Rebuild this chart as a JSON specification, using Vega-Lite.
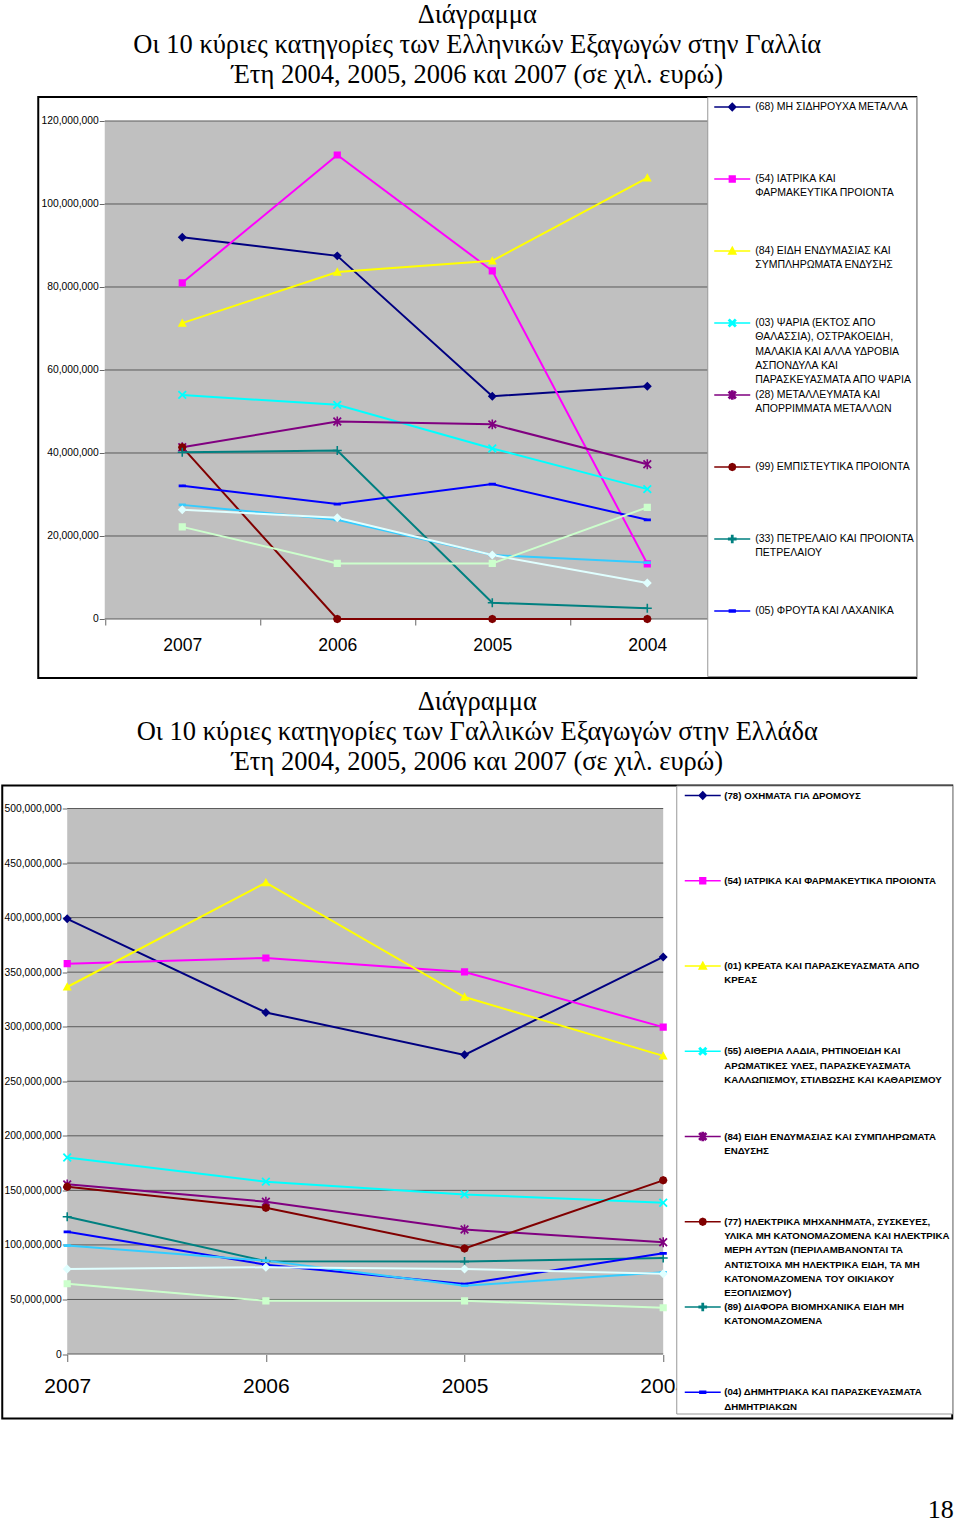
{
  "$schema": "https://vega.github.io/schema/vega-lite/v6.json",
  "padding": {"left": 1, "top": 1, "right": 0, "bottom": 0},
  "background": "white",
  "config": {
    "view": {"stroke": "black", "strokeWidth": 2},
    "style": {"guide-label": {"lineHeight": 14.25}},
    "axis": {"labelFont": "Liberation Sans", "labelColor": "black", "tickColor": "#666666", "domain": false, "grid": false, "labelFlush": false, "labelOverlap": false},
    "legend": {"title": null, "orient": "top-right", "offset": 0, "padding": 2, "fillColor": "white", "strokeColor": "#999999", "symbolStrokeWidth": 1.5, "symbolSize": 196, "labelFont": "Liberation Sans", "labelColor": "black", "labelLimit": 400}
  },
  "title": {"text": "18", "orient": "bottom", "anchor": "end", "font": "Liberation Serif", "fontSize": 26, "fontWeight": "normal", "color": "black", "offset": 77},
  "spacing": 8.5,
  "center": true,
  "resolve": {"scale": {"fill": "independent", "stroke": "independent", "shape": "independent"}},
  "datasets": {
    "c1": [
      {"series": "(68) ΜΗ ΣΙΔΗΡΟΥΧΑ ΜΕΤΑΛΛΑ", "year": 2007, "value": 92000000},
      {"series": "(68) ΜΗ ΣΙΔΗΡΟΥΧΑ ΜΕΤΑΛΛΑ", "year": 2006, "value": 87500000},
      {"series": "(68) ΜΗ ΣΙΔΗΡΟΥΧΑ ΜΕΤΑΛΛΑ", "year": 2005, "value": 53700000},
      {"series": "(68) ΜΗ ΣΙΔΗΡΟΥΧΑ ΜΕΤΑΛΛΑ", "year": 2004, "value": 56100000},
      {"series": "(54) ΙΑΤΡΙΚΑ ΚΑΙ\nΦΑΡΜΑΚΕΥΤΙΚΑ ΠΡΟΙΟΝΤΑ", "year": 2007, "value": 81000000},
      {"series": "(54) ΙΑΤΡΙΚΑ ΚΑΙ\nΦΑΡΜΑΚΕΥΤΙΚΑ ΠΡΟΙΟΝΤΑ", "year": 2006, "value": 111800000},
      {"series": "(54) ΙΑΤΡΙΚΑ ΚΑΙ\nΦΑΡΜΑΚΕΥΤΙΚΑ ΠΡΟΙΟΝΤΑ", "year": 2005, "value": 83900000},
      {"series": "(54) ΙΑΤΡΙΚΑ ΚΑΙ\nΦΑΡΜΑΚΕΥΤΙΚΑ ΠΡΟΙΟΝΤΑ", "year": 2004, "value": 13300000},
      {"series": "(84) ΕΙΔΗ ΕΝΔΥΜΑΣΙΑΣ ΚΑΙ\nΣΥΜΠΛΗΡΩΜΑΤΑ ΕΝΔΥΣΗΣ", "year": 2007, "value": 71300000},
      {"series": "(84) ΕΙΔΗ ΕΝΔΥΜΑΣΙΑΣ ΚΑΙ\nΣΥΜΠΛΗΡΩΜΑΤΑ ΕΝΔΥΣΗΣ", "year": 2006, "value": 83600000},
      {"series": "(84) ΕΙΔΗ ΕΝΔΥΜΑΣΙΑΣ ΚΑΙ\nΣΥΜΠΛΗΡΩΜΑΤΑ ΕΝΔΥΣΗΣ", "year": 2005, "value": 86300000},
      {"series": "(84) ΕΙΔΗ ΕΝΔΥΜΑΣΙΑΣ ΚΑΙ\nΣΥΜΠΛΗΡΩΜΑΤΑ ΕΝΔΥΣΗΣ", "year": 2004, "value": 106300000},
      {"series": "(03) ΨΑΡΙΑ (ΕΚΤΟΣ ΑΠΟ\nΘΑΛΑΣΣΙΑ), ΟΣΤΡΑΚΟΕΙΔΗ,\nΜΑΛΑΚΙΑ ΚΑΙ  ΑΛΛΑ ΥΔΡΟΒΙΑ\nΑΣΠΟΝΔΥΛΑ ΚΑΙ\nΠΑΡΑΣΚΕΥΑΣΜΑΤΑ ΑΠΟ ΨΑΡΙΑ", "year": 2007, "value": 54000000},
      {"series": "(03) ΨΑΡΙΑ (ΕΚΤΟΣ ΑΠΟ\nΘΑΛΑΣΣΙΑ), ΟΣΤΡΑΚΟΕΙΔΗ,\nΜΑΛΑΚΙΑ ΚΑΙ  ΑΛΛΑ ΥΔΡΟΒΙΑ\nΑΣΠΟΝΔΥΛΑ ΚΑΙ\nΠΑΡΑΣΚΕΥΑΣΜΑΤΑ ΑΠΟ ΨΑΡΙΑ", "year": 2006, "value": 51600000},
      {"series": "(03) ΨΑΡΙΑ (ΕΚΤΟΣ ΑΠΟ\nΘΑΛΑΣΣΙΑ), ΟΣΤΡΑΚΟΕΙΔΗ,\nΜΑΛΑΚΙΑ ΚΑΙ  ΑΛΛΑ ΥΔΡΟΒΙΑ\nΑΣΠΟΝΔΥΛΑ ΚΑΙ\nΠΑΡΑΣΚΕΥΑΣΜΑΤΑ ΑΠΟ ΨΑΡΙΑ", "year": 2005, "value": 41100000},
      {"series": "(03) ΨΑΡΙΑ (ΕΚΤΟΣ ΑΠΟ\nΘΑΛΑΣΣΙΑ), ΟΣΤΡΑΚΟΕΙΔΗ,\nΜΑΛΑΚΙΑ ΚΑΙ  ΑΛΛΑ ΥΔΡΟΒΙΑ\nΑΣΠΟΝΔΥΛΑ ΚΑΙ\nΠΑΡΑΣΚΕΥΑΣΜΑΤΑ ΑΠΟ ΨΑΡΙΑ", "year": 2004, "value": 31300000},
      {"series": "(28) ΜΕΤΑΛΛΕΥΜΑΤΑ ΚΑΙ\nΑΠΟΡΡΙΜΜΑΤΑ ΜΕΤΑΛΛΩΝ", "year": 2007, "value": 41400000},
      {"series": "(28) ΜΕΤΑΛΛΕΥΜΑΤΑ ΚΑΙ\nΑΠΟΡΡΙΜΜΑΤΑ ΜΕΤΑΛΛΩΝ", "year": 2006, "value": 47600000},
      {"series": "(28) ΜΕΤΑΛΛΕΥΜΑΤΑ ΚΑΙ\nΑΠΟΡΡΙΜΜΑΤΑ ΜΕΤΑΛΛΩΝ", "year": 2005, "value": 46900000},
      {"series": "(28) ΜΕΤΑΛΛΕΥΜΑΤΑ ΚΑΙ\nΑΠΟΡΡΙΜΜΑΤΑ ΜΕΤΑΛΛΩΝ", "year": 2004, "value": 37300000},
      {"series": "(99) ΕΜΠΙΣΤΕΥΤΙΚΑ ΠΡΟΙΟΝΤΑ", "year": 2007, "value": 41400000},
      {"series": "(99) ΕΜΠΙΣΤΕΥΤΙΚΑ ΠΡΟΙΟΝΤΑ", "year": 2006, "value": 0},
      {"series": "(99) ΕΜΠΙΣΤΕΥΤΙΚΑ ΠΡΟΙΟΝΤΑ", "year": 2005, "value": 0},
      {"series": "(99) ΕΜΠΙΣΤΕΥΤΙΚΑ ΠΡΟΙΟΝΤΑ", "year": 2004, "value": 0},
      {"series": "(33) ΠΕΤΡΕΛΑΙΟ ΚΑΙ ΠΡΟΙΟΝΤΑ\nΠΕΤΡΕΛΑΙΟΥ", "year": 2007, "value": 40200000},
      {"series": "(33) ΠΕΤΡΕΛΑΙΟ ΚΑΙ ΠΡΟΙΟΝΤΑ\nΠΕΤΡΕΛΑΙΟΥ", "year": 2006, "value": 40600000},
      {"series": "(33) ΠΕΤΡΕΛΑΙΟ ΚΑΙ ΠΡΟΙΟΝΤΑ\nΠΕΤΡΕΛΑΙΟΥ", "year": 2005, "value": 3900000},
      {"series": "(33) ΠΕΤΡΕΛΑΙΟ ΚΑΙ ΠΡΟΙΟΝΤΑ\nΠΕΤΡΕΛΑΙΟΥ", "year": 2004, "value": 2600000},
      {"series": "(05) ΦΡΟΥΤΑ ΚΑΙ ΛΑΧΑΝΙΚΑ", "year": 2007, "value": 32100000},
      {"series": "(05) ΦΡΟΥΤΑ ΚΑΙ ΛΑΧΑΝΙΚΑ", "year": 2006, "value": 27700000},
      {"series": "(05) ΦΡΟΥΤΑ ΚΑΙ ΛΑΧΑΝΙΚΑ", "year": 2005, "value": 32500000},
      {"series": "(05) ΦΡΟΥΤΑ ΚΑΙ ΛΑΧΑΝΙΚΑ", "year": 2004, "value": 23900000},
      {"series": "Σειρά 9", "year": 2007, "value": 27500000},
      {"series": "Σειρά 9", "year": 2006, "value": 23900000},
      {"series": "Σειρά 9", "year": 2005, "value": 15400000},
      {"series": "Σειρά 9", "year": 2004, "value": 13600000},
      {"series": "Σειρά 10", "year": 2007, "value": 26300000},
      {"series": "Σειρά 10", "year": 2006, "value": 24400000},
      {"series": "Σειρά 10", "year": 2005, "value": 15400000},
      {"series": "Σειρά 10", "year": 2004, "value": 8700000},
      {"series": "Σειρά 11", "year": 2007, "value": 22200000},
      {"series": "Σειρά 11", "year": 2006, "value": 13400000},
      {"series": "Σειρά 11", "year": 2005, "value": 13400000},
      {"series": "Σειρά 11", "year": 2004, "value": 26900000}
    ],
    "c2": [
      {"series": "(78) ΟΧΗΜΑΤΑ ΓΙΑ ΔΡΟΜΟΥΣ", "year": 2007, "value": 398900000},
      {"series": "(78) ΟΧΗΜΑΤΑ ΓΙΑ ΔΡΟΜΟΥΣ", "year": 2006, "value": 313100000},
      {"series": "(78) ΟΧΗΜΑΤΑ ΓΙΑ ΔΡΟΜΟΥΣ", "year": 2005, "value": 274200000},
      {"series": "(78) ΟΧΗΜΑΤΑ ΓΙΑ ΔΡΟΜΟΥΣ", "year": 2004, "value": 364000000},
      {"series": "(54) ΙΑΤΡΙΚΑ ΚΑΙ ΦΑΡΜΑΚΕΥΤΙΚΑ ΠΡΟΙΟΝΤΑ", "year": 2007, "value": 357800000},
      {"series": "(54) ΙΑΤΡΙΚΑ ΚΑΙ ΦΑΡΜΑΚΕΥΤΙΚΑ ΠΡΟΙΟΝΤΑ", "year": 2006, "value": 363000000},
      {"series": "(54) ΙΑΤΡΙΚΑ ΚΑΙ ΦΑΡΜΑΚΕΥΤΙΚΑ ΠΡΟΙΟΝΤΑ", "year": 2005, "value": 350200000},
      {"series": "(54) ΙΑΤΡΙΚΑ ΚΑΙ ΦΑΡΜΑΚΕΥΤΙΚΑ ΠΡΟΙΟΝΤΑ", "year": 2004, "value": 299600000},
      {"series": "(01) ΚΡΕΑΤΑ ΚΑΙ ΠΑΡΑΣΚΕΥΑΣΜΑΤΑ ΑΠΟ\nΚΡΕΑΣ", "year": 2007, "value": 336400000},
      {"series": "(01) ΚΡΕΑΤΑ ΚΑΙ ΠΑΡΑΣΚΕΥΑΣΜΑΤΑ ΑΠΟ\nΚΡΕΑΣ", "year": 2006, "value": 432000000},
      {"series": "(01) ΚΡΕΑΤΑ ΚΑΙ ΠΑΡΑΣΚΕΥΑΣΜΑΤΑ ΑΠΟ\nΚΡΕΑΣ", "year": 2005, "value": 327200000},
      {"series": "(01) ΚΡΕΑΤΑ ΚΑΙ ΠΑΡΑΣΚΕΥΑΣΜΑΤΑ ΑΠΟ\nΚΡΕΑΣ", "year": 2004, "value": 273300000},
      {"series": "(55) ΑΙΘΕΡΙΑ  ΛΑΔΙΑ, ΡΗΤΙΝΟΕΙΔΗ  ΚΑΙ\nΑΡΩΜΑΤΙΚΕΣ  ΥΛΕΣ, ΠΑΡΑΣΚΕΥΑΣΜΑΤΑ\nΚΑΛΛΩΠΙΣΜΟΥ, ΣΤΙΛΒΩΣΗΣ ΚΑΙ ΚΑΘΑΡΙΣΜΟΥ", "year": 2007, "value": 180100000},
      {"series": "(55) ΑΙΘΕΡΙΑ  ΛΑΔΙΑ, ΡΗΤΙΝΟΕΙΔΗ  ΚΑΙ\nΑΡΩΜΑΤΙΚΕΣ  ΥΛΕΣ, ΠΑΡΑΣΚΕΥΑΣΜΑΤΑ\nΚΑΛΛΩΠΙΣΜΟΥ, ΣΤΙΛΒΩΣΗΣ ΚΑΙ ΚΑΘΑΡΙΣΜΟΥ", "year": 2006, "value": 158000000},
      {"series": "(55) ΑΙΘΕΡΙΑ  ΛΑΔΙΑ, ΡΗΤΙΝΟΕΙΔΗ  ΚΑΙ\nΑΡΩΜΑΤΙΚΕΣ  ΥΛΕΣ, ΠΑΡΑΣΚΕΥΑΣΜΑΤΑ\nΚΑΛΛΩΠΙΣΜΟΥ, ΣΤΙΛΒΩΣΗΣ ΚΑΙ ΚΑΘΑΡΙΣΜΟΥ", "year": 2005, "value": 146300000},
      {"series": "(55) ΑΙΘΕΡΙΑ  ΛΑΔΙΑ, ΡΗΤΙΝΟΕΙΔΗ  ΚΑΙ\nΑΡΩΜΑΤΙΚΕΣ  ΥΛΕΣ, ΠΑΡΑΣΚΕΥΑΣΜΑΤΑ\nΚΑΛΛΩΠΙΣΜΟΥ, ΣΤΙΛΒΩΣΗΣ ΚΑΙ ΚΑΘΑΡΙΣΜΟΥ", "year": 2004, "value": 138700000},
      {"series": "(84) ΕΙΔΗ ΕΝΔΥΜΑΣΙΑΣ ΚΑΙ ΣΥΜΠΛΗΡΩΜΑΤΑ\nΕΝΔΥΣΗΣ", "year": 2007, "value": 155500000},
      {"series": "(84) ΕΙΔΗ ΕΝΔΥΜΑΣΙΑΣ ΚΑΙ ΣΥΜΠΛΗΡΩΜΑΤΑ\nΕΝΔΥΣΗΣ", "year": 2006, "value": 139600000},
      {"series": "(84) ΕΙΔΗ ΕΝΔΥΜΑΣΙΑΣ ΚΑΙ ΣΥΜΠΛΗΡΩΜΑΤΑ\nΕΝΔΥΣΗΣ", "year": 2005, "value": 114100000},
      {"series": "(84) ΕΙΔΗ ΕΝΔΥΜΑΣΙΑΣ ΚΑΙ ΣΥΜΠΛΗΡΩΜΑΤΑ\nΕΝΔΥΣΗΣ", "year": 2004, "value": 102500000},
      {"series": "(77) ΗΛΕΚΤΡΙΚΑ ΜΗΧΑΝΗΜΑΤΑ, ΣΥΣΚΕΥΕΣ,\nΥΛΙΚΑ ΜΗ ΚΑΤΟΝΟΜΑΖΟΜΕΝΑ ΚΑΙ ΗΛΕΚΤΡΙΚΑ\nΜΕΡΗ  ΑΥΤΩΝ  (ΠΕΡΙΛΑΜΒΑΝΟΝΤΑΙ ΤΑ\nΑΝΤΙΣΤΟΙΧΑ  ΜΗ  ΗΛΕΚΤΡΙΚΑ ΕΙΔΗ, ΤΑ ΜΗ\nΚΑΤΟΝΟΜΑΖΟΜΕΝΑ ΤΟΥ ΟΙΚΙΑΚΟΥ\nΕΞΟΠΛΙΣΜΟΥ)", "year": 2007, "value": 153400000},
      {"series": "(77) ΗΛΕΚΤΡΙΚΑ ΜΗΧΑΝΗΜΑΤΑ, ΣΥΣΚΕΥΕΣ,\nΥΛΙΚΑ ΜΗ ΚΑΤΟΝΟΜΑΖΟΜΕΝΑ ΚΑΙ ΗΛΕΚΤΡΙΚΑ\nΜΕΡΗ  ΑΥΤΩΝ  (ΠΕΡΙΛΑΜΒΑΝΟΝΤΑΙ ΤΑ\nΑΝΤΙΣΤΟΙΧΑ  ΜΗ  ΗΛΕΚΤΡΙΚΑ ΕΙΔΗ, ΤΑ ΜΗ\nΚΑΤΟΝΟΜΑΖΟΜΕΝΑ ΤΟΥ ΟΙΚΙΑΚΟΥ\nΕΞΟΠΛΙΣΜΟΥ)", "year": 2006, "value": 134100000},
      {"series": "(77) ΗΛΕΚΤΡΙΚΑ ΜΗΧΑΝΗΜΑΤΑ, ΣΥΣΚΕΥΕΣ,\nΥΛΙΚΑ ΜΗ ΚΑΤΟΝΟΜΑΖΟΜΕΝΑ ΚΑΙ ΗΛΕΚΤΡΙΚΑ\nΜΕΡΗ  ΑΥΤΩΝ  (ΠΕΡΙΛΑΜΒΑΝΟΝΤΑΙ ΤΑ\nΑΝΤΙΣΤΟΙΧΑ  ΜΗ  ΗΛΕΚΤΡΙΚΑ ΕΙΔΗ, ΤΑ ΜΗ\nΚΑΤΟΝΟΜΑΖΟΜΕΝΑ ΤΟΥ ΟΙΚΙΑΚΟΥ\nΕΞΟΠΛΙΣΜΟΥ)", "year": 2005, "value": 96700000},
      {"series": "(77) ΗΛΕΚΤΡΙΚΑ ΜΗΧΑΝΗΜΑΤΑ, ΣΥΣΚΕΥΕΣ,\nΥΛΙΚΑ ΜΗ ΚΑΤΟΝΟΜΑΖΟΜΕΝΑ ΚΑΙ ΗΛΕΚΤΡΙΚΑ\nΜΕΡΗ  ΑΥΤΩΝ  (ΠΕΡΙΛΑΜΒΑΝΟΝΤΑΙ ΤΑ\nΑΝΤΙΣΤΟΙΧΑ  ΜΗ  ΗΛΕΚΤΡΙΚΑ ΕΙΔΗ, ΤΑ ΜΗ\nΚΑΤΟΝΟΜΑΖΟΜΕΝΑ ΤΟΥ ΟΙΚΙΑΚΟΥ\nΕΞΟΠΛΙΣΜΟΥ)", "year": 2004, "value": 159200000},
      {"series": "(89) ΔΙΑΦΟΡΑ ΒΙΟΜΗΧΑΝΙΚΑ ΕΙΔΗ ΜΗ\nΚΑΤΟΝΟΜΑΖΟΜΕΝΑ", "year": 2007, "value": 125800000},
      {"series": "(89) ΔΙΑΦΟΡΑ ΒΙΟΜΗΧΑΝΙΚΑ ΕΙΔΗ ΜΗ\nΚΑΤΟΝΟΜΑΖΟΜΕΝΑ", "year": 2006, "value": 85000000},
      {"series": "(89) ΔΙΑΦΟΡΑ ΒΙΟΜΗΧΑΝΙΚΑ ΕΙΔΗ ΜΗ\nΚΑΤΟΝΟΜΑΖΟΜΕΝΑ", "year": 2005, "value": 84700000},
      {"series": "(89) ΔΙΑΦΟΡΑ ΒΙΟΜΗΧΑΝΙΚΑ ΕΙΔΗ ΜΗ\nΚΑΤΟΝΟΜΑΖΟΜΕΝΑ", "year": 2004, "value": 88000000},
      {"series": "(04) ΔΗΜΗΤΡΙΑΚΑ ΚΑΙ ΠΑΡΑΣΚΕΥΑΣΜΑΤΑ\nΔΗΜΗΤΡΙΑΚΩΝ", "year": 2007, "value": 112000000},
      {"series": "(04) ΔΗΜΗΤΡΙΑΚΑ ΚΑΙ ΠΑΡΑΣΚΕΥΑΣΜΑΤΑ\nΔΗΜΗΤΡΙΑΚΩΝ", "year": 2006, "value": 81900000},
      {"series": "(04) ΔΗΜΗΤΡΙΑΚΑ ΚΑΙ ΠΑΡΑΣΚΕΥΑΣΜΑΤΑ\nΔΗΜΗΤΡΙΑΚΩΝ", "year": 2005, "value": 64100000},
      {"series": "(04) ΔΗΜΗΤΡΙΑΚΑ ΚΑΙ ΠΑΡΑΣΚΕΥΑΣΜΑΤΑ\nΔΗΜΗΤΡΙΑΚΩΝ", "year": 2004, "value": 92300000},
      {"series": "Σειρά 9", "year": 2007, "value": 99400000},
      {"series": "Σειρά 9", "year": 2006, "value": 85600000},
      {"series": "Σειρά 9", "year": 2005, "value": 62600000},
      {"series": "Σειρά 9", "year": 2004, "value": 74900000},
      {"series": "Σειρά 10", "year": 2007, "value": 77900000},
      {"series": "Σειρά 10", "year": 2006, "value": 79500000},
      {"series": "Σειρά 10", "year": 2005, "value": 77900000},
      {"series": "Σειρά 10", "year": 2004, "value": 73600000},
      {"series": "Σειρά 11", "year": 2007, "value": 64400000},
      {"series": "Σειρά 11", "year": 2006, "value": 48800000},
      {"series": "Σειρά 11", "year": 2005, "value": 48800000},
      {"series": "Σειρά 11", "year": 2004, "value": 42400000}
    ],
    "g1": [{"v": 0}, {"v": 20000000}, {"v": 40000000}, {"v": 60000000}, {"v": 80000000}, {"v": 100000000}, {"v": 120000000}],
    "g2": [{"v": 0}, {"v": 50000000}, {"v": 100000000}, {"v": 150000000}, {"v": 200000000}, {"v": 250000000}, {"v": 300000000}, {"v": 350000000}, {"v": 400000000}, {"v": 450000000}, {"v": 500000000}]
  },
  "vconcat": [
    {
      "title": {"text": ["Διάγραμμα", "Οι 10 κύριες κατηγορίες των Ελληνικών Εξαγωγών στην Γαλλία", "Έτη 2004, 2005, 2006 και 2007 (σε χιλ. ευρώ)"], "font": "Liberation Serif", "fontSize": 26.5, "fontWeight": "normal", "lineHeight": 30, "offset": 8, "color": "black", "anchor": "middle"},
      "width": 878,
      "height": 581,
      "data": {"name": "c1"},
      "layer": [
        {
          "data": {"values": [{}]},
          "mark": {"type": "rect", "color": "#C0C0C0"},
          "encoding": {
            "x": {"datum": 2007.5, "type": "quantitative", "scale": {"domain": [2007.929, 2002.265], "nice": false, "zero": false}},
            "x2": {"datum": 2003.4},
            "y": {"datum": 0, "type": "quantitative", "scale": {"domain": [-14217000, 125783000], "nice": false, "zero": false}},
            "y2": {"datum": 120000000}
          }
        },
        {
          "data": {"name": "g1"},
          "mark": {"type": "rule", "color": "#5a5a5a", "strokeWidth": 1},
          "encoding": {
            "y": {"field": "v", "type": "quantitative", "scale": {"domain": [-14217000, 125783000], "nice": false, "zero": false}},
            "x": {"datum": 2007.5, "type": "quantitative", "scale": {"domain": [2007.929, 2002.265], "nice": false, "zero": false}},
            "x2": {"datum": 2003.4}
          }
        },
        {
          "mark": {"type": "line", "strokeWidth": 2},
          "encoding": {
            "x": {"field": "year", "type": "quantitative", "scale": {"domain": [2007.929, 2002.265], "nice": false, "zero": false},
              "axis": {"title": null, "offset": -59, "values": [2007.5, 2007, 2006.5, 2006, 2005.5, 2005, 2004.5, 2004], "labelExpr": "datum.value % 1 == 0 ? format(datum.value, 'd') : ''", "tickOpacity": {"condition": {"test": "datum.value % 1 == 0", "value": 0}, "value": 1}, "tickSize": 6, "labelPadding": 11.5, "labelFontSize": 17.5}},
            "y": {"field": "value", "type": "quantitative", "scale": {"domain": [-14217000, 125783000], "nice": false, "zero": false},
              "axis": {"title": null, "offset": -66, "values": [0, 20000000, 40000000, 60000000, 80000000, 100000000, 120000000], "format": ",d", "tickSize": 5, "labelPadding": 1, "labelFontSize": 10.3}},
            "stroke": {"field": "series", "type": "nominal",
              "scale": {"domain": ["(68) ΜΗ ΣΙΔΗΡΟΥΧΑ ΜΕΤΑΛΛΑ", "(54) ΙΑΤΡΙΚΑ ΚΑΙ\nΦΑΡΜΑΚΕΥΤΙΚΑ ΠΡΟΙΟΝΤΑ", "(84) ΕΙΔΗ ΕΝΔΥΜΑΣΙΑΣ ΚΑΙ\nΣΥΜΠΛΗΡΩΜΑΤΑ ΕΝΔΥΣΗΣ", "(03) ΨΑΡΙΑ (ΕΚΤΟΣ ΑΠΟ\nΘΑΛΑΣΣΙΑ), ΟΣΤΡΑΚΟΕΙΔΗ,\nΜΑΛΑΚΙΑ ΚΑΙ  ΑΛΛΑ ΥΔΡΟΒΙΑ\nΑΣΠΟΝΔΥΛΑ ΚΑΙ\nΠΑΡΑΣΚΕΥΑΣΜΑΤΑ ΑΠΟ ΨΑΡΙΑ", "(28) ΜΕΤΑΛΛΕΥΜΑΤΑ ΚΑΙ\nΑΠΟΡΡΙΜΜΑΤΑ ΜΕΤΑΛΛΩΝ", "(99) ΕΜΠΙΣΤΕΥΤΙΚΑ ΠΡΟΙΟΝΤΑ", "(33) ΠΕΤΡΕΛΑΙΟ ΚΑΙ ΠΡΟΙΟΝΤΑ\nΠΕΤΡΕΛΑΙΟΥ", "(05) ΦΡΟΥΤΑ ΚΑΙ ΛΑΧΑΝΙΚΑ", "Σειρά 9", "Σειρά 10", "Σειρά 11"],
                "range": ["#000080", "#FF00FF", "#FFFF00", "#00FFFF", "#800080", "#800000", "#008080", "#0000FF", "#33CCFF", "#E0FFFF", "#CCFFCC"]},
              "legend": {"values": ["(68) ΜΗ ΣΙΔΗΡΟΥΧΑ ΜΕΤΑΛΛΑ", "(54) ΙΑΤΡΙΚΑ ΚΑΙ\nΦΑΡΜΑΚΕΥΤΙΚΑ ΠΡΟΙΟΝΤΑ", "(84) ΕΙΔΗ ΕΝΔΥΜΑΣΙΑΣ ΚΑΙ\nΣΥΜΠΛΗΡΩΜΑΤΑ ΕΝΔΥΣΗΣ", "(03) ΨΑΡΙΑ (ΕΚΤΟΣ ΑΠΟ\nΘΑΛΑΣΣΙΑ), ΟΣΤΡΑΚΟΕΙΔΗ,\nΜΑΛΑΚΙΑ ΚΑΙ  ΑΛΛΑ ΥΔΡΟΒΙΑ\nΑΣΠΟΝΔΥΛΑ ΚΑΙ\nΠΑΡΑΣΚΕΥΑΣΜΑΤΑ ΑΠΟ ΨΑΡΙΑ", "(28) ΜΕΤΑΛΛΕΥΜΑΤΑ ΚΑΙ\nΑΠΟΡΡΙΜΜΑΤΑ ΜΕΤΑΛΛΩΝ", "(99) ΕΜΠΙΣΤΕΥΤΙΚΑ ΠΡΟΙΟΝΤΑ", "(33) ΠΕΤΡΕΛΑΙΟ ΚΑΙ ΠΡΟΙΟΝΤΑ\nΠΕΤΡΕΛΑΙΟΥ", "(05) ΦΡΟΥΤΑ ΚΑΙ ΛΑΧΑΝΙΚΑ"], "symbolOffset": 15, "labelOffset": 15, "labelFontSize": 10.5, "rowPadding": 1, "labelExpr": "slice(split(datum.label + '\\n \\n \\n \\n ', '\\n'), 0, 5)"}
            }
          }
        },
        {
          "mark": {"type": "point", "filled": true, "size": 306, "strokeWidth": 0, "opacity": 1},
          "encoding": {
            "x": {"field": "year", "type": "quantitative", "scale": {"domain": [2007.929, 2002.265], "nice": false, "zero": false}},
            "y": {"field": "value", "type": "quantitative", "scale": {"domain": [-14217000, 125783000], "nice": false, "zero": false}},
            "fill": {"field": "series", "type": "nominal",
              "scale": {"domain": ["(68) ΜΗ ΣΙΔΗΡΟΥΧΑ ΜΕΤΑΛΛΑ", "(54) ΙΑΤΡΙΚΑ ΚΑΙ\nΦΑΡΜΑΚΕΥΤΙΚΑ ΠΡΟΙΟΝΤΑ", "(84) ΕΙΔΗ ΕΝΔΥΜΑΣΙΑΣ ΚΑΙ\nΣΥΜΠΛΗΡΩΜΑΤΑ ΕΝΔΥΣΗΣ", "(03) ΨΑΡΙΑ (ΕΚΤΟΣ ΑΠΟ\nΘΑΛΑΣΣΙΑ), ΟΣΤΡΑΚΟΕΙΔΗ,\nΜΑΛΑΚΙΑ ΚΑΙ  ΑΛΛΑ ΥΔΡΟΒΙΑ\nΑΣΠΟΝΔΥΛΑ ΚΑΙ\nΠΑΡΑΣΚΕΥΑΣΜΑΤΑ ΑΠΟ ΨΑΡΙΑ", "(28) ΜΕΤΑΛΛΕΥΜΑΤΑ ΚΑΙ\nΑΠΟΡΡΙΜΜΑΤΑ ΜΕΤΑΛΛΩΝ", "(99) ΕΜΠΙΣΤΕΥΤΙΚΑ ΠΡΟΙΟΝΤΑ", "(33) ΠΕΤΡΕΛΑΙΟ ΚΑΙ ΠΡΟΙΟΝΤΑ\nΠΕΤΡΕΛΑΙΟΥ", "(05) ΦΡΟΥΤΑ ΚΑΙ ΛΑΧΑΝΙΚΑ", "Σειρά 9", "Σειρά 10", "Σειρά 11"],
                "range": ["#000080", "#FF00FF", "#FFFF00", "#00FFFF", "#800080", "#800000", "#008080", "#0000FF", "#33CCFF", "#E0FFFF", "#CCFFCC"]},
              "legend": {"values": ["(68) ΜΗ ΣΙΔΗΡΟΥΧΑ ΜΕΤΑΛΛΑ", "(54) ΙΑΤΡΙΚΑ ΚΑΙ\nΦΑΡΜΑΚΕΥΤΙΚΑ ΠΡΟΙΟΝΤΑ", "(84) ΕΙΔΗ ΕΝΔΥΜΑΣΙΑΣ ΚΑΙ\nΣΥΜΠΛΗΡΩΜΑΤΑ ΕΝΔΥΣΗΣ", "(03) ΨΑΡΙΑ (ΕΚΤΟΣ ΑΠΟ\nΘΑΛΑΣΣΙΑ), ΟΣΤΡΑΚΟΕΙΔΗ,\nΜΑΛΑΚΙΑ ΚΑΙ  ΑΛΛΑ ΥΔΡΟΒΙΑ\nΑΣΠΟΝΔΥΛΑ ΚΑΙ\nΠΑΡΑΣΚΕΥΑΣΜΑΤΑ ΑΠΟ ΨΑΡΙΑ", "(28) ΜΕΤΑΛΛΕΥΜΑΤΑ ΚΑΙ\nΑΠΟΡΡΙΜΜΑΤΑ ΜΕΤΑΛΛΩΝ", "(99) ΕΜΠΙΣΤΕΥΤΙΚΑ ΠΡΟΙΟΝΤΑ", "(33) ΠΕΤΡΕΛΑΙΟ ΚΑΙ ΠΡΟΙΟΝΤΑ\nΠΕΤΡΕΛΑΙΟΥ", "(05) ΦΡΟΥΤΑ ΚΑΙ ΛΑΧΑΝΙΚΑ"], "symbolOffset": 15, "labelOffset": 15, "labelFontSize": 10.5, "rowPadding": 1, "labelExpr": "slice(split(datum.label + '\\n \\n \\n \\n ', '\\n'), 0, 5)"}},
            "stroke": {"field": "series", "type": "nominal",
              "scale": {"domain": ["(68) ΜΗ ΣΙΔΗΡΟΥΧΑ ΜΕΤΑΛΛΑ", "(54) ΙΑΤΡΙΚΑ ΚΑΙ\nΦΑΡΜΑΚΕΥΤΙΚΑ ΠΡΟΙΟΝΤΑ", "(84) ΕΙΔΗ ΕΝΔΥΜΑΣΙΑΣ ΚΑΙ\nΣΥΜΠΛΗΡΩΜΑΤΑ ΕΝΔΥΣΗΣ", "(03) ΨΑΡΙΑ (ΕΚΤΟΣ ΑΠΟ\nΘΑΛΑΣΣΙΑ), ΟΣΤΡΑΚΟΕΙΔΗ,\nΜΑΛΑΚΙΑ ΚΑΙ  ΑΛΛΑ ΥΔΡΟΒΙΑ\nΑΣΠΟΝΔΥΛΑ ΚΑΙ\nΠΑΡΑΣΚΕΥΑΣΜΑΤΑ ΑΠΟ ΨΑΡΙΑ", "(28) ΜΕΤΑΛΛΕΥΜΑΤΑ ΚΑΙ\nΑΠΟΡΡΙΜΜΑΤΑ ΜΕΤΑΛΛΩΝ", "(99) ΕΜΠΙΣΤΕΥΤΙΚΑ ΠΡΟΙΟΝΤΑ", "(33) ΠΕΤΡΕΛΑΙΟ ΚΑΙ ΠΡΟΙΟΝΤΑ\nΠΕΤΡΕΛΑΙΟΥ", "(05) ΦΡΟΥΤΑ ΚΑΙ ΛΑΧΑΝΙΚΑ", "Σειρά 9", "Σειρά 10", "Σειρά 11"],
                "range": ["#000080", "#FF00FF", "#FFFF00", "#00FFFF", "#800080", "#800000", "#008080", "#0000FF", "#33CCFF", "#E0FFFF", "#CCFFCC"]},
              "legend": {"values": ["(68) ΜΗ ΣΙΔΗΡΟΥΧΑ ΜΕΤΑΛΛΑ", "(54) ΙΑΤΡΙΚΑ ΚΑΙ\nΦΑΡΜΑΚΕΥΤΙΚΑ ΠΡΟΙΟΝΤΑ", "(84) ΕΙΔΗ ΕΝΔΥΜΑΣΙΑΣ ΚΑΙ\nΣΥΜΠΛΗΡΩΜΑΤΑ ΕΝΔΥΣΗΣ", "(03) ΨΑΡΙΑ (ΕΚΤΟΣ ΑΠΟ\nΘΑΛΑΣΣΙΑ), ΟΣΤΡΑΚΟΕΙΔΗ,\nΜΑΛΑΚΙΑ ΚΑΙ  ΑΛΛΑ ΥΔΡΟΒΙΑ\nΑΣΠΟΝΔΥΛΑ ΚΑΙ\nΠΑΡΑΣΚΕΥΑΣΜΑΤΑ ΑΠΟ ΨΑΡΙΑ", "(28) ΜΕΤΑΛΛΕΥΜΑΤΑ ΚΑΙ\nΑΠΟΡΡΙΜΜΑΤΑ ΜΕΤΑΛΛΩΝ", "(99) ΕΜΠΙΣΤΕΥΤΙΚΑ ΠΡΟΙΟΝΤΑ", "(33) ΠΕΤΡΕΛΑΙΟ ΚΑΙ ΠΡΟΙΟΝΤΑ\nΠΕΤΡΕΛΑΙΟΥ", "(05) ΦΡΟΥΤΑ ΚΑΙ ΛΑΧΑΝΙΚΑ"], "symbolOffset": 15, "labelOffset": 15, "labelFontSize": 10.5, "rowPadding": 1, "labelExpr": "slice(split(datum.label + '\\n \\n \\n \\n ', '\\n'), 0, 5)"}},
            "shape": {"field": "series", "type": "nominal",
              "scale": {"domain": ["(68) ΜΗ ΣΙΔΗΡΟΥΧΑ ΜΕΤΑΛΛΑ", "(54) ΙΑΤΡΙΚΑ ΚΑΙ\nΦΑΡΜΑΚΕΥΤΙΚΑ ΠΡΟΙΟΝΤΑ", "(84) ΕΙΔΗ ΕΝΔΥΜΑΣΙΑΣ ΚΑΙ\nΣΥΜΠΛΗΡΩΜΑΤΑ ΕΝΔΥΣΗΣ", "(03) ΨΑΡΙΑ (ΕΚΤΟΣ ΑΠΟ\nΘΑΛΑΣΣΙΑ), ΟΣΤΡΑΚΟΕΙΔΗ,\nΜΑΛΑΚΙΑ ΚΑΙ  ΑΛΛΑ ΥΔΡΟΒΙΑ\nΑΣΠΟΝΔΥΛΑ ΚΑΙ\nΠΑΡΑΣΚΕΥΑΣΜΑΤΑ ΑΠΟ ΨΑΡΙΑ", "(28) ΜΕΤΑΛΛΕΥΜΑΤΑ ΚΑΙ\nΑΠΟΡΡΙΜΜΑΤΑ ΜΕΤΑΛΛΩΝ", "(99) ΕΜΠΙΣΤΕΥΤΙΚΑ ΠΡΟΙΟΝΤΑ", "(33) ΠΕΤΡΕΛΑΙΟ ΚΑΙ ΠΡΟΙΟΝΤΑ\nΠΕΤΡΕΛΑΙΟΥ", "(05) ΦΡΟΥΤΑ ΚΑΙ ΛΑΧΑΝΙΚΑ", "Σειρά 9", "Σειρά 10", "Σειρά 11"],
                "range": ["M-2.571,0H2.571M0,-0.514L0.514,0L0,0.514L-0.514,0Z", "M-2.571,0H2.571M-0.411,-0.411H0.411V0.411H-0.411Z", "M-2.571,0H2.571M0,-0.54L0.514,0.411H-0.514Z", "M-2.571,0H2.571M-0.509,-0.365L0.365,0.509L0.509,0.365L-0.365,-0.509ZM-0.365,0.509L0.509,-0.365L0.365,-0.509L-0.509,0.365Z", "M-2.571,0H2.571M-0.509,-0.365L0.365,0.509L0.509,0.365L-0.365,-0.509ZM-0.365,0.509L0.509,-0.365L0.365,-0.509L-0.509,0.365ZM-0.09,-0.566V0.566H0.09V-0.566Z", "M-2.571,0H2.571M0.489,0L0.345,0.345L0,0.489L-0.345,0.345L-0.489,0L-0.345,-0.345L0,-0.489L0.345,-0.345Z", "M-2.571,0H2.571M-0.09,-0.514H0.09V0.514H-0.09ZM-0.514,-0.09H0.514V0.09H-0.514Z", "M-2.571,0H2.571M-0.411,-0.154H0.411V0.154H-0.411Z", "M-2.571,0H2.571M-0.411,-0.154H0.411V0.154H-0.411Z", "M-2.571,0H2.571M0,-0.514L0.514,0L0,0.514L-0.514,0Z", "M-2.571,0H2.571M-0.411,-0.411H0.411V0.411H-0.411Z"]},
              "legend": {"values": ["(68) ΜΗ ΣΙΔΗΡΟΥΧΑ ΜΕΤΑΛΛΑ", "(54) ΙΑΤΡΙΚΑ ΚΑΙ\nΦΑΡΜΑΚΕΥΤΙΚΑ ΠΡΟΙΟΝΤΑ", "(84) ΕΙΔΗ ΕΝΔΥΜΑΣΙΑΣ ΚΑΙ\nΣΥΜΠΛΗΡΩΜΑΤΑ ΕΝΔΥΣΗΣ", "(03) ΨΑΡΙΑ (ΕΚΤΟΣ ΑΠΟ\nΘΑΛΑΣΣΙΑ), ΟΣΤΡΑΚΟΕΙΔΗ,\nΜΑΛΑΚΙΑ ΚΑΙ  ΑΛΛΑ ΥΔΡΟΒΙΑ\nΑΣΠΟΝΔΥΛΑ ΚΑΙ\nΠΑΡΑΣΚΕΥΑΣΜΑΤΑ ΑΠΟ ΨΑΡΙΑ", "(28) ΜΕΤΑΛΛΕΥΜΑΤΑ ΚΑΙ\nΑΠΟΡΡΙΜΜΑΤΑ ΜΕΤΑΛΛΩΝ", "(99) ΕΜΠΙΣΤΕΥΤΙΚΑ ΠΡΟΙΟΝΤΑ", "(33) ΠΕΤΡΕΛΑΙΟ ΚΑΙ ΠΡΟΙΟΝΤΑ\nΠΕΤΡΕΛΑΙΟΥ", "(05) ΦΡΟΥΤΑ ΚΑΙ ΛΑΧΑΝΙΚΑ"], "symbolOffset": 15, "labelOffset": 15, "labelFontSize": 10.5, "rowPadding": 1, "labelExpr": "slice(split(datum.label + '\\n \\n \\n \\n ', '\\n'), 0, 5)"}}
          }
        }
      ]
    },
    {
      "title": {"text": ["Διάγραμμα", "Οι 10 κύριες κατηγορίες των Γαλλικών Εξαγωγών στην Ελλάδα", "Έτη 2004, 2005, 2006 και 2007 (σε χιλ. ευρώ)"], "font": "Liberation Serif", "fontSize": 26.5, "fontWeight": "normal", "lineHeight": 30, "offset": 10, "color": "black", "anchor": "middle"},
      "width": 950,
      "height": 633,
      "data": {"name": "c2"},
      "layer": [
        {
          "data": {"values": [{}]},
          "mark": {"type": "rect", "color": "#C0C0C0"},
          "encoding": {
            "x": {"datum": 2007, "type": "quantitative", "scale": {"domain": [2007.327, 2002.545], "nice": false, "zero": false}},
            "x2": {"datum": 2004},
            "y": {"datum": 0, "type": "quantitative", "scale": {"domain": [-59100000, 521100000], "nice": false, "zero": false}},
            "y2": {"datum": 500000000}
          }
        },
        {
          "data": {"name": "g2"},
          "mark": {"type": "rule", "color": "#5a5a5a", "strokeWidth": 1},
          "encoding": {
            "y": {"field": "v", "type": "quantitative", "scale": {"domain": [-59100000, 521100000], "nice": false, "zero": false}},
            "x": {"datum": 2007, "type": "quantitative", "scale": {"domain": [2007.327, 2002.545], "nice": false, "zero": false}},
            "x2": {"datum": 2004}
          }
        },
        {
          "mark": {"type": "line", "strokeWidth": 2},
          "encoding": {
            "x": {"field": "year", "type": "quantitative", "scale": {"domain": [2007.327, 2002.545], "nice": false, "zero": false},
              "axis": {"title": null, "offset": -64, "values": [2007, 2006, 2005, 2004], "format": "d", "tickSize": 7, "labelPadding": 13.5, "labelFontSize": 21}},
            "y": {"field": "value", "type": "quantitative", "scale": {"domain": [-59100000, 521100000], "nice": false, "zero": false},
              "axis": {"title": null, "offset": -65, "values": [0, 50000000, 100000000, 150000000, 200000000, 250000000, 300000000, 350000000, 400000000, 450000000, 500000000], "format": ",d", "tickSize": 5, "labelPadding": 1, "labelFontSize": 10.3}},
            "stroke": {"field": "series", "type": "nominal",
              "scale": {"domain": ["(78) ΟΧΗΜΑΤΑ ΓΙΑ ΔΡΟΜΟΥΣ", "(54) ΙΑΤΡΙΚΑ ΚΑΙ ΦΑΡΜΑΚΕΥΤΙΚΑ ΠΡΟΙΟΝΤΑ", "(01) ΚΡΕΑΤΑ ΚΑΙ ΠΑΡΑΣΚΕΥΑΣΜΑΤΑ ΑΠΟ\nΚΡΕΑΣ", "(55) ΑΙΘΕΡΙΑ  ΛΑΔΙΑ, ΡΗΤΙΝΟΕΙΔΗ  ΚΑΙ\nΑΡΩΜΑΤΙΚΕΣ  ΥΛΕΣ, ΠΑΡΑΣΚΕΥΑΣΜΑΤΑ\nΚΑΛΛΩΠΙΣΜΟΥ, ΣΤΙΛΒΩΣΗΣ ΚΑΙ ΚΑΘΑΡΙΣΜΟΥ", "(84) ΕΙΔΗ ΕΝΔΥΜΑΣΙΑΣ ΚΑΙ ΣΥΜΠΛΗΡΩΜΑΤΑ\nΕΝΔΥΣΗΣ", "(77) ΗΛΕΚΤΡΙΚΑ ΜΗΧΑΝΗΜΑΤΑ, ΣΥΣΚΕΥΕΣ,\nΥΛΙΚΑ ΜΗ ΚΑΤΟΝΟΜΑΖΟΜΕΝΑ ΚΑΙ ΗΛΕΚΤΡΙΚΑ\nΜΕΡΗ  ΑΥΤΩΝ  (ΠΕΡΙΛΑΜΒΑΝΟΝΤΑΙ ΤΑ\nΑΝΤΙΣΤΟΙΧΑ  ΜΗ  ΗΛΕΚΤΡΙΚΑ ΕΙΔΗ, ΤΑ ΜΗ\nΚΑΤΟΝΟΜΑΖΟΜΕΝΑ ΤΟΥ ΟΙΚΙΑΚΟΥ\nΕΞΟΠΛΙΣΜΟΥ)", "(89) ΔΙΑΦΟΡΑ ΒΙΟΜΗΧΑΝΙΚΑ ΕΙΔΗ ΜΗ\nΚΑΤΟΝΟΜΑΖΟΜΕΝΑ", "(04) ΔΗΜΗΤΡΙΑΚΑ ΚΑΙ ΠΑΡΑΣΚΕΥΑΣΜΑΤΑ\nΔΗΜΗΤΡΙΑΚΩΝ", "Σειρά 9", "Σειρά 10", "Σειρά 11"],
                "range": ["#000080", "#FF00FF", "#FFFF00", "#00FFFF", "#800080", "#800000", "#008080", "#0000FF", "#33CCFF", "#E0FFFF", "#CCFFCC"]},
              "legend": {"values": ["(78) ΟΧΗΜΑΤΑ ΓΙΑ ΔΡΟΜΟΥΣ", "(54) ΙΑΤΡΙΚΑ ΚΑΙ ΦΑΡΜΑΚΕΥΤΙΚΑ ΠΡΟΙΟΝΤΑ", "(01) ΚΡΕΑΤΑ ΚΑΙ ΠΑΡΑΣΚΕΥΑΣΜΑΤΑ ΑΠΟ\nΚΡΕΑΣ", "(55) ΑΙΘΕΡΙΑ  ΛΑΔΙΑ, ΡΗΤΙΝΟΕΙΔΗ  ΚΑΙ\nΑΡΩΜΑΤΙΚΕΣ  ΥΛΕΣ, ΠΑΡΑΣΚΕΥΑΣΜΑΤΑ\nΚΑΛΛΩΠΙΣΜΟΥ, ΣΤΙΛΒΩΣΗΣ ΚΑΙ ΚΑΘΑΡΙΣΜΟΥ", "(84) ΕΙΔΗ ΕΝΔΥΜΑΣΙΑΣ ΚΑΙ ΣΥΜΠΛΗΡΩΜΑΤΑ\nΕΝΔΥΣΗΣ", "(77) ΗΛΕΚΤΡΙΚΑ ΜΗΧΑΝΗΜΑΤΑ, ΣΥΣΚΕΥΕΣ,\nΥΛΙΚΑ ΜΗ ΚΑΤΟΝΟΜΑΖΟΜΕΝΑ ΚΑΙ ΗΛΕΚΤΡΙΚΑ\nΜΕΡΗ  ΑΥΤΩΝ  (ΠΕΡΙΛΑΜΒΑΝΟΝΤΑΙ ΤΑ\nΑΝΤΙΣΤΟΙΧΑ  ΜΗ  ΗΛΕΚΤΡΙΚΑ ΕΙΔΗ, ΤΑ ΜΗ\nΚΑΤΟΝΟΜΑΖΟΜΕΝΑ ΤΟΥ ΟΙΚΙΑΚΟΥ\nΕΞΟΠΛΙΣΜΟΥ)", "(89) ΔΙΑΦΟΡΑ ΒΙΟΜΗΧΑΝΙΚΑ ΕΙΔΗ ΜΗ\nΚΑΤΟΝΟΜΑΖΟΜΕΝΑ", "(04) ΔΗΜΗΤΡΙΑΚΑ ΚΑΙ ΠΑΡΑΣΚΕΥΑΣΜΑΤΑ\nΔΗΜΗΤΡΙΑΚΩΝ"], "symbolOffset": 16.5, "labelOffset": 13.5, "labelFontSize": 9.7, "labelFontWeight": "bold", "rowPadding": 1.25, "labelExpr": "datum.index == 7 ? split(datum.label, '\\n') : slice(split(datum.label + '\\n \\n \\n \\n \\n ', '\\n'), 0, 6)"}
            }
          }
        },
        {
          "mark": {"type": "point", "filled": true, "size": 306, "strokeWidth": 0, "opacity": 1},
          "encoding": {
            "x": {"field": "year", "type": "quantitative", "scale": {"domain": [2007.327, 2002.545], "nice": false, "zero": false}},
            "y": {"field": "value", "type": "quantitative", "scale": {"domain": [-59100000, 521100000], "nice": false, "zero": false}},
            "fill": {"field": "series", "type": "nominal",
              "scale": {"domain": ["(78) ΟΧΗΜΑΤΑ ΓΙΑ ΔΡΟΜΟΥΣ", "(54) ΙΑΤΡΙΚΑ ΚΑΙ ΦΑΡΜΑΚΕΥΤΙΚΑ ΠΡΟΙΟΝΤΑ", "(01) ΚΡΕΑΤΑ ΚΑΙ ΠΑΡΑΣΚΕΥΑΣΜΑΤΑ ΑΠΟ\nΚΡΕΑΣ", "(55) ΑΙΘΕΡΙΑ  ΛΑΔΙΑ, ΡΗΤΙΝΟΕΙΔΗ  ΚΑΙ\nΑΡΩΜΑΤΙΚΕΣ  ΥΛΕΣ, ΠΑΡΑΣΚΕΥΑΣΜΑΤΑ\nΚΑΛΛΩΠΙΣΜΟΥ, ΣΤΙΛΒΩΣΗΣ ΚΑΙ ΚΑΘΑΡΙΣΜΟΥ", "(84) ΕΙΔΗ ΕΝΔΥΜΑΣΙΑΣ ΚΑΙ ΣΥΜΠΛΗΡΩΜΑΤΑ\nΕΝΔΥΣΗΣ", "(77) ΗΛΕΚΤΡΙΚΑ ΜΗΧΑΝΗΜΑΤΑ, ΣΥΣΚΕΥΕΣ,\nΥΛΙΚΑ ΜΗ ΚΑΤΟΝΟΜΑΖΟΜΕΝΑ ΚΑΙ ΗΛΕΚΤΡΙΚΑ\nΜΕΡΗ  ΑΥΤΩΝ  (ΠΕΡΙΛΑΜΒΑΝΟΝΤΑΙ ΤΑ\nΑΝΤΙΣΤΟΙΧΑ  ΜΗ  ΗΛΕΚΤΡΙΚΑ ΕΙΔΗ, ΤΑ ΜΗ\nΚΑΤΟΝΟΜΑΖΟΜΕΝΑ ΤΟΥ ΟΙΚΙΑΚΟΥ\nΕΞΟΠΛΙΣΜΟΥ)", "(89) ΔΙΑΦΟΡΑ ΒΙΟΜΗΧΑΝΙΚΑ ΕΙΔΗ ΜΗ\nΚΑΤΟΝΟΜΑΖΟΜΕΝΑ", "(04) ΔΗΜΗΤΡΙΑΚΑ ΚΑΙ ΠΑΡΑΣΚΕΥΑΣΜΑΤΑ\nΔΗΜΗΤΡΙΑΚΩΝ", "Σειρά 9", "Σειρά 10", "Σειρά 11"],
                "range": ["#000080", "#FF00FF", "#FFFF00", "#00FFFF", "#800080", "#800000", "#008080", "#0000FF", "#33CCFF", "#E0FFFF", "#CCFFCC"]},
              "legend": {"values": ["(78) ΟΧΗΜΑΤΑ ΓΙΑ ΔΡΟΜΟΥΣ", "(54) ΙΑΤΡΙΚΑ ΚΑΙ ΦΑΡΜΑΚΕΥΤΙΚΑ ΠΡΟΙΟΝΤΑ", "(01) ΚΡΕΑΤΑ ΚΑΙ ΠΑΡΑΣΚΕΥΑΣΜΑΤΑ ΑΠΟ\nΚΡΕΑΣ", "(55) ΑΙΘΕΡΙΑ  ΛΑΔΙΑ, ΡΗΤΙΝΟΕΙΔΗ  ΚΑΙ\nΑΡΩΜΑΤΙΚΕΣ  ΥΛΕΣ, ΠΑΡΑΣΚΕΥΑΣΜΑΤΑ\nΚΑΛΛΩΠΙΣΜΟΥ, ΣΤΙΛΒΩΣΗΣ ΚΑΙ ΚΑΘΑΡΙΣΜΟΥ", "(84) ΕΙΔΗ ΕΝΔΥΜΑΣΙΑΣ ΚΑΙ ΣΥΜΠΛΗΡΩΜΑΤΑ\nΕΝΔΥΣΗΣ", "(77) ΗΛΕΚΤΡΙΚΑ ΜΗΧΑΝΗΜΑΤΑ, ΣΥΣΚΕΥΕΣ,\nΥΛΙΚΑ ΜΗ ΚΑΤΟΝΟΜΑΖΟΜΕΝΑ ΚΑΙ ΗΛΕΚΤΡΙΚΑ\nΜΕΡΗ  ΑΥΤΩΝ  (ΠΕΡΙΛΑΜΒΑΝΟΝΤΑΙ ΤΑ\nΑΝΤΙΣΤΟΙΧΑ  ΜΗ  ΗΛΕΚΤΡΙΚΑ ΕΙΔΗ, ΤΑ ΜΗ\nΚΑΤΟΝΟΜΑΖΟΜΕΝΑ ΤΟΥ ΟΙΚΙΑΚΟΥ\nΕΞΟΠΛΙΣΜΟΥ)", "(89) ΔΙΑΦΟΡΑ ΒΙΟΜΗΧΑΝΙΚΑ ΕΙΔΗ ΜΗ\nΚΑΤΟΝΟΜΑΖΟΜΕΝΑ", "(04) ΔΗΜΗΤΡΙΑΚΑ ΚΑΙ ΠΑΡΑΣΚΕΥΑΣΜΑΤΑ\nΔΗΜΗΤΡΙΑΚΩΝ"], "symbolOffset": 16.5, "labelOffset": 13.5, "labelFontSize": 9.7, "labelFontWeight": "bold", "rowPadding": 1.25, "labelExpr": "datum.index == 7 ? split(datum.label, '\\n') : slice(split(datum.label + '\\n \\n \\n \\n \\n ', '\\n'), 0, 6)"}},
            "stroke": {"field": "series", "type": "nominal",
              "scale": {"domain": ["(78) ΟΧΗΜΑΤΑ ΓΙΑ ΔΡΟΜΟΥΣ", "(54) ΙΑΤΡΙΚΑ ΚΑΙ ΦΑΡΜΑΚΕΥΤΙΚΑ ΠΡΟΙΟΝΤΑ", "(01) ΚΡΕΑΤΑ ΚΑΙ ΠΑΡΑΣΚΕΥΑΣΜΑΤΑ ΑΠΟ\nΚΡΕΑΣ", "(55) ΑΙΘΕΡΙΑ  ΛΑΔΙΑ, ΡΗΤΙΝΟΕΙΔΗ  ΚΑΙ\nΑΡΩΜΑΤΙΚΕΣ  ΥΛΕΣ, ΠΑΡΑΣΚΕΥΑΣΜΑΤΑ\nΚΑΛΛΩΠΙΣΜΟΥ, ΣΤΙΛΒΩΣΗΣ ΚΑΙ ΚΑΘΑΡΙΣΜΟΥ", "(84) ΕΙΔΗ ΕΝΔΥΜΑΣΙΑΣ ΚΑΙ ΣΥΜΠΛΗΡΩΜΑΤΑ\nΕΝΔΥΣΗΣ", "(77) ΗΛΕΚΤΡΙΚΑ ΜΗΧΑΝΗΜΑΤΑ, ΣΥΣΚΕΥΕΣ,\nΥΛΙΚΑ ΜΗ ΚΑΤΟΝΟΜΑΖΟΜΕΝΑ ΚΑΙ ΗΛΕΚΤΡΙΚΑ\nΜΕΡΗ  ΑΥΤΩΝ  (ΠΕΡΙΛΑΜΒΑΝΟΝΤΑΙ ΤΑ\nΑΝΤΙΣΤΟΙΧΑ  ΜΗ  ΗΛΕΚΤΡΙΚΑ ΕΙΔΗ, ΤΑ ΜΗ\nΚΑΤΟΝΟΜΑΖΟΜΕΝΑ ΤΟΥ ΟΙΚΙΑΚΟΥ\nΕΞΟΠΛΙΣΜΟΥ)", "(89) ΔΙΑΦΟΡΑ ΒΙΟΜΗΧΑΝΙΚΑ ΕΙΔΗ ΜΗ\nΚΑΤΟΝΟΜΑΖΟΜΕΝΑ", "(04) ΔΗΜΗΤΡΙΑΚΑ ΚΑΙ ΠΑΡΑΣΚΕΥΑΣΜΑΤΑ\nΔΗΜΗΤΡΙΑΚΩΝ", "Σειρά 9", "Σειρά 10", "Σειρά 11"],
                "range": ["#000080", "#FF00FF", "#FFFF00", "#00FFFF", "#800080", "#800000", "#008080", "#0000FF", "#33CCFF", "#E0FFFF", "#CCFFCC"]},
              "legend": {"values": ["(78) ΟΧΗΜΑΤΑ ΓΙΑ ΔΡΟΜΟΥΣ", "(54) ΙΑΤΡΙΚΑ ΚΑΙ ΦΑΡΜΑΚΕΥΤΙΚΑ ΠΡΟΙΟΝΤΑ", "(01) ΚΡΕΑΤΑ ΚΑΙ ΠΑΡΑΣΚΕΥΑΣΜΑΤΑ ΑΠΟ\nΚΡΕΑΣ", "(55) ΑΙΘΕΡΙΑ  ΛΑΔΙΑ, ΡΗΤΙΝΟΕΙΔΗ  ΚΑΙ\nΑΡΩΜΑΤΙΚΕΣ  ΥΛΕΣ, ΠΑΡΑΣΚΕΥΑΣΜΑΤΑ\nΚΑΛΛΩΠΙΣΜΟΥ, ΣΤΙΛΒΩΣΗΣ ΚΑΙ ΚΑΘΑΡΙΣΜΟΥ", "(84) ΕΙΔΗ ΕΝΔΥΜΑΣΙΑΣ ΚΑΙ ΣΥΜΠΛΗΡΩΜΑΤΑ\nΕΝΔΥΣΗΣ", "(77) ΗΛΕΚΤΡΙΚΑ ΜΗΧΑΝΗΜΑΤΑ, ΣΥΣΚΕΥΕΣ,\nΥΛΙΚΑ ΜΗ ΚΑΤΟΝΟΜΑΖΟΜΕΝΑ ΚΑΙ ΗΛΕΚΤΡΙΚΑ\nΜΕΡΗ  ΑΥΤΩΝ  (ΠΕΡΙΛΑΜΒΑΝΟΝΤΑΙ ΤΑ\nΑΝΤΙΣΤΟΙΧΑ  ΜΗ  ΗΛΕΚΤΡΙΚΑ ΕΙΔΗ, ΤΑ ΜΗ\nΚΑΤΟΝΟΜΑΖΟΜΕΝΑ ΤΟΥ ΟΙΚΙΑΚΟΥ\nΕΞΟΠΛΙΣΜΟΥ)", "(89) ΔΙΑΦΟΡΑ ΒΙΟΜΗΧΑΝΙΚΑ ΕΙΔΗ ΜΗ\nΚΑΤΟΝΟΜΑΖΟΜΕΝΑ", "(04) ΔΗΜΗΤΡΙΑΚΑ ΚΑΙ ΠΑΡΑΣΚΕΥΑΣΜΑΤΑ\nΔΗΜΗΤΡΙΑΚΩΝ"], "symbolOffset": 16.5, "labelOffset": 13.5, "labelFontSize": 9.7, "labelFontWeight": "bold", "rowPadding": 1.25, "labelExpr": "datum.index == 7 ? split(datum.label, '\\n') : slice(split(datum.label + '\\n \\n \\n \\n \\n ', '\\n'), 0, 6)"}},
            "shape": {"field": "series", "type": "nominal",
              "scale": {"domain": ["(78) ΟΧΗΜΑΤΑ ΓΙΑ ΔΡΟΜΟΥΣ", "(54) ΙΑΤΡΙΚΑ ΚΑΙ ΦΑΡΜΑΚΕΥΤΙΚΑ ΠΡΟΙΟΝΤΑ", "(01) ΚΡΕΑΤΑ ΚΑΙ ΠΑΡΑΣΚΕΥΑΣΜΑΤΑ ΑΠΟ\nΚΡΕΑΣ", "(55) ΑΙΘΕΡΙΑ  ΛΑΔΙΑ, ΡΗΤΙΝΟΕΙΔΗ  ΚΑΙ\nΑΡΩΜΑΤΙΚΕΣ  ΥΛΕΣ, ΠΑΡΑΣΚΕΥΑΣΜΑΤΑ\nΚΑΛΛΩΠΙΣΜΟΥ, ΣΤΙΛΒΩΣΗΣ ΚΑΙ ΚΑΘΑΡΙΣΜΟΥ", "(84) ΕΙΔΗ ΕΝΔΥΜΑΣΙΑΣ ΚΑΙ ΣΥΜΠΛΗΡΩΜΑΤΑ\nΕΝΔΥΣΗΣ", "(77) ΗΛΕΚΤΡΙΚΑ ΜΗΧΑΝΗΜΑΤΑ, ΣΥΣΚΕΥΕΣ,\nΥΛΙΚΑ ΜΗ ΚΑΤΟΝΟΜΑΖΟΜΕΝΑ ΚΑΙ ΗΛΕΚΤΡΙΚΑ\nΜΕΡΗ  ΑΥΤΩΝ  (ΠΕΡΙΛΑΜΒΑΝΟΝΤΑΙ ΤΑ\nΑΝΤΙΣΤΟΙΧΑ  ΜΗ  ΗΛΕΚΤΡΙΚΑ ΕΙΔΗ, ΤΑ ΜΗ\nΚΑΤΟΝΟΜΑΖΟΜΕΝΑ ΤΟΥ ΟΙΚΙΑΚΟΥ\nΕΞΟΠΛΙΣΜΟΥ)", "(89) ΔΙΑΦΟΡΑ ΒΙΟΜΗΧΑΝΙΚΑ ΕΙΔΗ ΜΗ\nΚΑΤΟΝΟΜΑΖΟΜΕΝΑ", "(04) ΔΗΜΗΤΡΙΑΚΑ ΚΑΙ ΠΑΡΑΣΚΕΥΑΣΜΑΤΑ\nΔΗΜΗΤΡΙΑΚΩΝ", "Σειρά 9", "Σειρά 10", "Σειρά 11"],
                "range": ["M-2.571,0H2.571M0,-0.514L0.514,0L0,0.514L-0.514,0Z", "M-2.571,0H2.571M-0.411,-0.411H0.411V0.411H-0.411Z", "M-2.571,0H2.571M0,-0.54L0.514,0.411H-0.514Z", "M-2.571,0H2.571M-0.509,-0.365L0.365,0.509L0.509,0.365L-0.365,-0.509ZM-0.365,0.509L0.509,-0.365L0.365,-0.509L-0.509,0.365Z", "M-2.571,0H2.571M-0.509,-0.365L0.365,0.509L0.509,0.365L-0.365,-0.509ZM-0.365,0.509L0.509,-0.365L0.365,-0.509L-0.509,0.365ZM-0.09,-0.566V0.566H0.09V-0.566Z", "M-2.571,0H2.571M0.489,0L0.345,0.345L0,0.489L-0.345,0.345L-0.489,0L-0.345,-0.345L0,-0.489L0.345,-0.345Z", "M-2.571,0H2.571M-0.09,-0.514H0.09V0.514H-0.09ZM-0.514,-0.09H0.514V0.09H-0.514Z", "M-2.571,0H2.571M-0.411,-0.154H0.411V0.154H-0.411Z", "M-2.571,0H2.571M-0.411,-0.154H0.411V0.154H-0.411Z", "M-2.571,0H2.571M0,-0.514L0.514,0L0,0.514L-0.514,0Z", "M-2.571,0H2.571M-0.411,-0.411H0.411V0.411H-0.411Z"]},
              "legend": {"values": ["(78) ΟΧΗΜΑΤΑ ΓΙΑ ΔΡΟΜΟΥΣ", "(54) ΙΑΤΡΙΚΑ ΚΑΙ ΦΑΡΜΑΚΕΥΤΙΚΑ ΠΡΟΙΟΝΤΑ", "(01) ΚΡΕΑΤΑ ΚΑΙ ΠΑΡΑΣΚΕΥΑΣΜΑΤΑ ΑΠΟ\nΚΡΕΑΣ", "(55) ΑΙΘΕΡΙΑ  ΛΑΔΙΑ, ΡΗΤΙΝΟΕΙΔΗ  ΚΑΙ\nΑΡΩΜΑΤΙΚΕΣ  ΥΛΕΣ, ΠΑΡΑΣΚΕΥΑΣΜΑΤΑ\nΚΑΛΛΩΠΙΣΜΟΥ, ΣΤΙΛΒΩΣΗΣ ΚΑΙ ΚΑΘΑΡΙΣΜΟΥ", "(84) ΕΙΔΗ ΕΝΔΥΜΑΣΙΑΣ ΚΑΙ ΣΥΜΠΛΗΡΩΜΑΤΑ\nΕΝΔΥΣΗΣ", "(77) ΗΛΕΚΤΡΙΚΑ ΜΗΧΑΝΗΜΑΤΑ, ΣΥΣΚΕΥΕΣ,\nΥΛΙΚΑ ΜΗ ΚΑΤΟΝΟΜΑΖΟΜΕΝΑ ΚΑΙ ΗΛΕΚΤΡΙΚΑ\nΜΕΡΗ  ΑΥΤΩΝ  (ΠΕΡΙΛΑΜΒΑΝΟΝΤΑΙ ΤΑ\nΑΝΤΙΣΤΟΙΧΑ  ΜΗ  ΗΛΕΚΤΡΙΚΑ ΕΙΔΗ, ΤΑ ΜΗ\nΚΑΤΟΝΟΜΑΖΟΜΕΝΑ ΤΟΥ ΟΙΚΙΑΚΟΥ\nΕΞΟΠΛΙΣΜΟΥ)", "(89) ΔΙΑΦΟΡΑ ΒΙΟΜΗΧΑΝΙΚΑ ΕΙΔΗ ΜΗ\nΚΑΤΟΝΟΜΑΖΟΜΕΝΑ", "(04) ΔΗΜΗΤΡΙΑΚΑ ΚΑΙ ΠΑΡΑΣΚΕΥΑΣΜΑΤΑ\nΔΗΜΗΤΡΙΑΚΩΝ"], "symbolOffset": 16.5, "labelOffset": 13.5, "labelFontSize": 9.7, "labelFontWeight": "bold", "rowPadding": 1.25, "labelExpr": "datum.index == 7 ? split(datum.label, '\\n') : slice(split(datum.label + '\\n \\n \\n \\n \\n ', '\\n'), 0, 6)"}}
          }
        }
      ]
    }
  ]
}
